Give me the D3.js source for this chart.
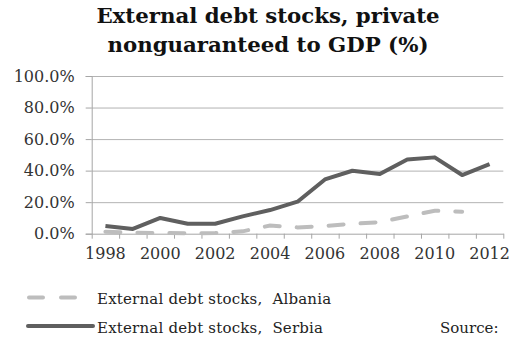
<!DOCTYPE html>
<html>
<head>
<meta charset="utf-8">
<script src="https://cdn.jsdelivr.net/npm/d3@7"></script>
<style>
  body { margin: 0; background: #fff; }
  svg { display: block; }
</style>
</head>
<body>
<script>
// chart data
const years = ["1998","1999","2000","2001","2002","2003","2004","2005","2006","2007","2008","2009","2010","2011","2012"];
const albania = [1.3, 0.6, 0.4, 0.3, 0.4, 1.5, 5.2, 4.0, 4.9, 6.3, 7.3, 11.0, 14.6, 13.9, null];
const serbia  = [4.9, 3.0, 10.0, 6.3, 6.3, 11.0, 15.0, 20.3, 34.4, 39.9, 37.8, 47.1, 48.4, 37.2, 44.1];
const yTicks  = [0, 20, 40, 60, 80, 100];
const titleLines = ["External debt stocks, private", "nonguaranteed to GDP (%)"];
const legendLabels = ["External debt stocks,  Albania", "External debt stocks,  Serbia"];

const W = 520, H = 340;
const serif = "'DejaVu Serif', serif";

const svg = d3.select("body").append("svg")
    .attr("width", W).attr("height", H);

const x = d3.scaleBand().domain(years).range([91.7, 503.3]);
const y = d3.scaleLinear().domain([0, 100]).range([233.7, 76]);

// title
svg.append("g").selectAll("text")
    .data(titleLines).join("text")
    .attr("x", 268).attr("y", (d, i) => 23 + i * 29)
    .attr("text-anchor", "middle")
    .attr("font-family", serif).attr("font-weight", "bold")
    .attr("font-size", 21.3).attr("fill", "#111")
    .text(d => d);

// gridlines
svg.append("g").selectAll("line")
    .data(yTicks.slice(1)).join("line")
    .attr("x1", x.range()[0]).attr("x2", x.range()[1])
    .attr("y1", d => y(d) + 0.5).attr("y2", d => y(d) + 0.5)
    .attr("stroke", "#b3b3b3");

// y axis
const yAxis = svg.append("g")
    .attr("transform", `translate(${x.range()[0]},0)`)
    .call(d3.axisLeft(y).tickValues(yTicks).tickSize(6).tickPadding(11)
        .tickFormat(d => d.toFixed(1) + "%"));
yAxis.select(".domain").attr("stroke", "#a6a6a6");
yAxis.selectAll(".tick line").attr("stroke", "#a6a6a6");
yAxis.selectAll("text").attr("font-family", serif).attr("font-size", 16).attr("fill", "#333");

// x axis: ticks on band edges, labels on every other year
const edges = d3.scaleLinear().domain([0, years.length]).range(x.range());
const xEdge = svg.append("g")
    .attr("transform", `translate(0,${y(0)})`)
    .call(d3.axisBottom(edges).tickValues(d3.range(years.length + 1))
        .tickSize(5).tickSizeOuter(0).tickFormat(""));
xEdge.select(".domain").attr("stroke", "#a6a6a6");
xEdge.selectAll(".tick line").attr("stroke", "#a6a6a6");

const xLab = svg.append("g")
    .attr("transform", `translate(0,${y(0)})`)
    .call(d3.axisBottom(x).tickValues(years.filter((d, i) => i % 2 === 0))
        .tickSize(0).tickPadding(14));
xLab.select(".domain").remove();
xLab.selectAll("text").attr("font-family", serif).attr("font-size", 16).attr("fill", "#333");

// lines
const line = d3.line()
    .defined(d => d != null)
    .x((d, i) => x(years[i]) + x.bandwidth() / 2)
    .y(d => y(d));

svg.append("path").datum(albania)
    .attr("d", line).attr("fill", "none")
    .attr("stroke", "#bdbdbd").attr("stroke-width", 4)
    .attr("stroke-dasharray", "15,17").attr("stroke-linecap", "round");

svg.append("path").datum(serbia)
    .attr("d", line).attr("fill", "none")
    .attr("stroke", "#5f5f5f").attr("stroke-width", 4)
    .attr("stroke-linejoin", "round");

// legend
const leg = svg.append("g");
leg.append("line")
    .attr("x1", 29).attr("x2", 77).attr("y1", 297.5).attr("y2", 297.5)
    .attr("stroke", "#bdbdbd").attr("stroke-width", 4)
    .attr("stroke-dasharray", "14,18").attr("stroke-linecap", "round");
leg.append("line")
    .attr("x1", 28).attr("x2", 93).attr("y1", 326).attr("y2", 326)
    .attr("stroke", "#5f5f5f").attr("stroke-width", 4)
    .attr("stroke-linecap", "round");
leg.selectAll("text.lab")
    .data(legendLabels).join("text")
    .attr("class", "lab")
    .attr("x", 97).attr("y", (d, i) => 304 + i * 29)
    .attr("font-family", serif).attr("font-size", 15).attr("letter-spacing", 0.2)
    .style("white-space", "pre")
    .attr("fill", "#222")
    .text(d => d);
leg.append("text")
    .attr("x", 440).attr("y", 333)
    .attr("font-family", serif).attr("font-size", 15).attr("fill", "#222")
    .text("Source:");
</script>
</body>
</html>
